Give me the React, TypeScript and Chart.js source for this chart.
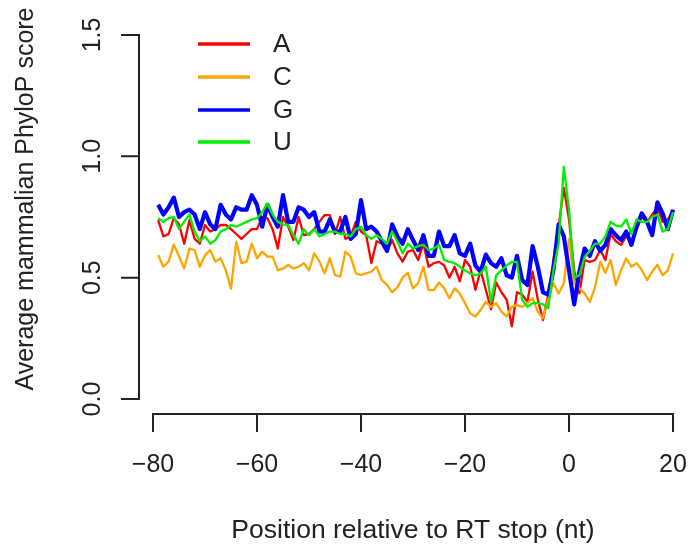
import React, { useEffect, useRef } from "react";
import { Chart, registerables } from "chart.js";

Chart.register(...registerables);

const positions: number[] = [];
for (let p = -79; p <= 20; p++) positions.push(p);

const xTicks = [-80, -60, -40, -20, 0, 20];
const yTicks = [0, 0.5, 1.0, 1.5];
const yTickLabels = ["0.0", "0.5", "1.0", "1.5"];
const xTickLabels = ["\u221280", "\u221260", "\u221240", "\u221220", "0", "20"];

const seriesNames = ["A", "C", "G", "U"];
const seriesColors = ["#ff0000", "#ffa500", "#0000ff", "#00ee00"];

// -79 .. 20
const valuesA = [
  0.737, 0.67, 0.68, 0.745, 0.72, 0.64, 0.737, 0.66, 0.64, 0.717,
  0.69, 0.70, 0.717, 0.717, 0.70, 0.68, 0.66, 0.68, 0.70, 0.70,
  0.75, 0.745, 0.70, 0.62, 0.75, 0.71, 0.655, 0.75, 0.675, 0.68,
  0.70, 0.73, 0.758, 0.758, 0.68, 0.75, 0.66, 0.67, 0.73, 0.69,
  0.675, 0.56, 0.65, 0.64, 0.607, 0.655, 0.60, 0.566, 0.607, 0.614,
  0.573, 0.64, 0.545, 0.56, 0.565, 0.55, 0.50, 0.545, 0.485, 0.573,
  0.545, 0.45, 0.53, 0.45, 0.37, 0.48, 0.44, 0.41, 0.30, 0.44,
  0.43, 0.40, 0.525, 0.41, 0.325, 0.43, 0.573, 0.71, 0.87, 0.74,
  0.53, 0.435, 0.573, 0.565, 0.573, 0.614, 0.573, 0.68, 0.65, 0.635,
  0.67, 0.69, 0.70, 0.75, 0.73, 0.76, 0.79, 0.73, 0.74, 0.78,
];

const valuesC = [
  0.593, 0.545, 0.566, 0.637, 0.587, 0.538, 0.62, 0.614, 0.545, 0.593,
  0.614, 0.566, 0.58, 0.53, 0.455, 0.648, 0.56, 0.566, 0.64, 0.58,
  0.607, 0.587, 0.587, 0.53, 0.538, 0.552, 0.538, 0.545, 0.56, 0.53,
  0.60, 0.566, 0.518, 0.58, 0.511, 0.504, 0.607, 0.587, 0.518, 0.511,
  0.518, 0.525, 0.545, 0.49, 0.47, 0.44, 0.46, 0.50, 0.52, 0.456,
  0.477, 0.545, 0.449, 0.449, 0.48, 0.456, 0.415, 0.456, 0.435, 0.395,
  0.353, 0.34, 0.367, 0.40, 0.38, 0.395, 0.36, 0.34, 0.38, 0.387,
  0.38, 0.395, 0.415, 0.36, 0.333, 0.41, 0.477, 0.435, 0.477, 0.66,
  0.477, 0.456, 0.435, 0.40, 0.46, 0.566, 0.52, 0.573, 0.47, 0.53,
  0.58, 0.545, 0.56, 0.532, 0.49, 0.525, 0.553, 0.51, 0.53, 0.60,
];

const valuesG = [
  0.80, 0.76, 0.79, 0.83, 0.75, 0.77, 0.78, 0.76, 0.70, 0.77,
  0.72, 0.70, 0.80, 0.76, 0.74, 0.79, 0.78, 0.78, 0.84, 0.80,
  0.71, 0.80, 0.75, 0.71, 0.84, 0.73, 0.73, 0.79, 0.78, 0.75,
  0.77, 0.69, 0.69, 0.74, 0.69, 0.69, 0.75, 0.66, 0.68, 0.82,
  0.70, 0.71, 0.69, 0.65, 0.61, 0.72, 0.67, 0.64, 0.70, 0.655,
  0.614, 0.675, 0.59, 0.59, 0.69, 0.63, 0.63, 0.675, 0.60, 0.59,
  0.64, 0.55, 0.525, 0.595, 0.56, 0.545, 0.58, 0.51, 0.50, 0.59,
  0.49, 0.47, 0.63, 0.545, 0.44, 0.43, 0.53, 0.72, 0.67, 0.53,
  0.39, 0.525, 0.62, 0.59, 0.65, 0.61, 0.635, 0.70, 0.675, 0.655,
  0.69, 0.635, 0.71, 0.765, 0.73, 0.675, 0.81, 0.765, 0.70, 0.78,
];

const valuesU = [
  0.745, 0.73, 0.745, 0.75, 0.70, 0.73, 0.76, 0.69, 0.65, 0.67,
  0.64, 0.655, 0.69, 0.70, 0.717, 0.71, 0.72, 0.73, 0.74, 0.745,
  0.77, 0.806, 0.76, 0.73, 0.72, 0.717, 0.675, 0.64, 0.70, 0.675,
  0.70, 0.67, 0.68, 0.69, 0.69, 0.68, 0.68, 0.67, 0.70, 0.71,
  0.675, 0.66, 0.675, 0.66, 0.64, 0.69, 0.65, 0.60, 0.64, 0.62,
  0.63, 0.635, 0.614, 0.62, 0.635, 0.573, 0.565, 0.56, 0.545, 0.53,
  0.518, 0.51, 0.518, 0.545, 0.40, 0.51, 0.53, 0.55, 0.565, 0.565,
  0.408, 0.38, 0.395, 0.395, 0.39, 0.375, 0.53, 0.64, 0.957, 0.779,
  0.50, 0.51, 0.585, 0.61, 0.64, 0.64, 0.67, 0.73, 0.715, 0.71,
  0.74, 0.68, 0.74, 0.73, 0.73, 0.75, 0.76, 0.69, 0.70, 0.77,
];

const seriesValues = [valuesA, valuesC, valuesG, valuesU];
const seriesWidths = [2.3, 2.3, 4.2, 2.3];
const seriesOrder = [3, 2, 1, 0];

const FONT = '"Liberation Sans", Arial, sans-serif';
const INK = "#222222";

const rAxesPlugin = {
  id: "rAxes",
  afterDraw(chart: any) {
    const ctx = chart.ctx;
    const xs = chart.scales.x;
    const ys = chart.scales.y;
    const area = chart.chartArea;
    ctx.save();
    ctx.strokeStyle = INK;
    ctx.fillStyle = INK;
    ctx.lineWidth = 2;
    ctx.lineCap = "square";

    // y axis
    const yx = area.left + 1;
    const y0 = ys.getPixelForValue(yTicks[0]);
    const y1 = ys.getPixelForValue(yTicks[yTicks.length - 1]);
    ctx.beginPath();
    ctx.moveTo(yx, y0);
    ctx.lineTo(yx, y1);
    yTicks.forEach((t) => {
      const py = ys.getPixelForValue(t);
      ctx.moveTo(yx, py);
      ctx.lineTo(yx - 17, py);
    });
    ctx.stroke();
    ctx.font = `25px ${FONT}`;
    ctx.textAlign = "center";
    ctx.textBaseline = "alphabetic";
    yTicks.forEach((t, i) => {
      const py = ys.getPixelForValue(t);
      ctx.save();
      ctx.translate(100, py);
      ctx.rotate(-Math.PI / 2);
      ctx.fillText(yTickLabels[i], 0, 0);
      ctx.restore();
    });

    // x axis
    const xy = area.bottom;
    const x0 = xs.getPixelForValue(xTicks[0]);
    const x1 = xs.getPixelForValue(xTicks[xTicks.length - 1]);
    ctx.beginPath();
    ctx.moveTo(x0, xy);
    ctx.lineTo(x1, xy);
    xTicks.forEach((t) => {
      const px = xs.getPixelForValue(t);
      ctx.moveTo(px, xy);
      ctx.lineTo(px, xy + 17);
    });
    ctx.stroke();
    xTicks.forEach((t, i) => {
      const px = xs.getPixelForValue(t);
      ctx.fillText(xTickLabels[i], px, 472);
    });

    // titles
    ctx.font = `26.5px ${FONT}`;
    ctx.fillText("Position relative to RT stop (nt)", (x0 + x1) / 2, 538);
    ctx.font = `25px ${FONT}`;
    ctx.save();
    ctx.translate(33, 199);
    ctx.rotate(-Math.PI / 2);
    ctx.fillText("Average mammalian PhyloP score", 0, 0);
    ctx.restore();

    // legend
    const legY = [44, 77, 110, 142];
    ctx.font = `26px ${FONT}`;
    ctx.textAlign = "left";
    ctx.textBaseline = "middle";
    seriesNames.forEach((name, i) => {
      ctx.strokeStyle = seriesColors[i];
      ctx.lineWidth = 3.5;
      ctx.lineCap = "butt";
      ctx.beginPath();
      ctx.moveTo(198, legY[i]);
      ctx.lineTo(250, legY[i]);
      ctx.stroke();
      ctx.fillStyle = INK;
      ctx.fillText(name, 273, legY[i] + 1);
    });
    ctx.restore();
  },
};

export default function App() {
  const canvasRef = useRef<HTMLCanvasElement | null>(null);

  useEffect(() => {
    if (!canvasRef.current) return;
    const datasets = seriesNames.map((name, i) => ({
      label: name,
      data: positions.map((p, j) => ({ x: p, y: seriesValues[i][j] })),
      borderColor: seriesColors[i],
      borderWidth: seriesWidths[i],
      pointRadius: 0,
      tension: 0,
      fill: false,
      order: seriesOrder[i],
      borderJoinStyle: "round" as const,
    }));
    const chart = new Chart(canvasRef.current, {
      type: "line",
      data: { datasets },
      options: {
        animation: false,
        responsive: false,
        devicePixelRatio: 1,
        layout: { padding: { left: 138, right: 0, top: 20, bottom: 132 } },
        plugins: { legend: { display: false }, tooltip: { enabled: false } },
        scales: {
          x: { type: "linear", display: false, min: -82.885, max: 23.46 },
          y: { type: "linear", display: false, min: -0.0618, max: 1.5618 },
        },
      },
      plugins: [rAxesPlugin],
    });
    return () => chart.destroy();
  }, []);

  return (
    <div style={{ position: "fixed", left: 0, top: 0, width: 691, height: 546, background: "#fff" }}>
      <canvas ref={canvasRef} width={691} height={546} style={{ width: 691, height: 546 }} />
    </div>
  );
}
